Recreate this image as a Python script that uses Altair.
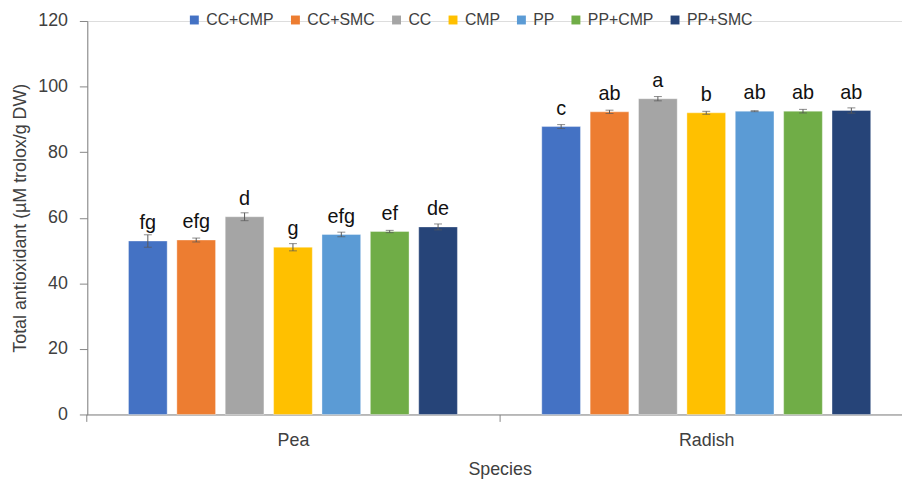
import altair as alt
import pandas as pd

species_list = ["Pea", "Radish"]
treatments = ["CC+CMP", "CC+SMC", "CC", "CMP", "PP", "PP+CMP", "PP+SMC"]
colors = ["#4472C4", "#ED7D31", "#A5A5A5", "#FFC000", "#5B9BD5", "#70AD47", "#264478"]

pea_means = [52.9, 53.2, 60.3, 51.0, 54.9, 55.8, 57.2]
pea_err = [1.9, 0.6, 1.2, 1.1, 0.7, 0.35, 0.9]
pea_letters = ["fg", "efg", "d", "g", "efg", "ef", "de"]

radish_means = [87.8, 92.3, 96.3, 92.0, 92.5, 92.5, 92.7]
radish_err = [0.6, 0.5, 0.65, 0.45, 0.15, 0.55, 0.8]
radish_letters = ["c", "ab", "a", "b", "ab", "ab", "ab"]

rows = []
for sp, means, errs, lets in [
    ("Pea", pea_means, pea_err, pea_letters),
    ("Radish", radish_means, radish_err, radish_letters),
]:
    for t, m, e, l in zip(treatments, means, errs, lets):
        rows.append(dict(Species=sp, Treatment=t, mean=m, lo=m - e, hi=m + e, letter=l))
df = pd.DataFrame(rows)

FONT = "Liberation Sans"
AXC = "#868686"
LBC = "#404040"

x_scale = alt.Scale(domain=species_list, paddingInner=0, paddingOuter=0, range=[-1, 833])
x_enc = alt.X(
    "Species:N",
    title="Species",
    scale=x_scale,
    axis=alt.Axis(
        labelAngle=0, tickBand="extent", tickSize=7, labelPadding=10,
        titlePadding=12,
    ),
)
xoff = alt.XOffset(
    "Treatment:N", sort=treatments,
    scale=alt.Scale(domain=treatments, paddingInner=0.2, paddingOuter=0.872),
)
y_scale = alt.Scale(domain=[0, 120])

base = alt.Chart(df)

bars = base.mark_bar(stroke="white", strokeWidth=0.6, strokeOpacity=0.6).encode(
    x=x_enc,
    xOffset=xoff,
    y=alt.Y(
        "mean:Q", scale=y_scale,
        title="Total antioxidant (µM trolox/g DW)",
        axis=alt.Axis(
            values=[0, 20, 40, 60, 80, 100, 120], grid=False, tickSize=8,
            labelPadding=12, titlePadding=8,
        ),
    ),
    color=alt.Color(
        "Treatment:N", sort=treatments,
        scale=alt.Scale(domain=treatments, range=colors),
        legend=alt.Legend(
            orient="none", legendX=100, legendY=-9, direction="horizontal",
            title=None, symbolType="square", symbolSize=81, symbolStrokeWidth=0,
            labelFontSize=16, labelFont=FONT, labelColor=LBC,
            columnPadding=13, labelOffset=4,
        ),
    ),
)

xo = alt.X("Species:N", scale=x_scale)
rules = base.mark_rule(color="#595959", strokeWidth=1).encode(
    x=xo, xOffset=xoff,
    y=alt.Y("lo:Q", scale=y_scale),
    y2="hi:Q",
)
caps_top = base.mark_tick(color="#595959", thickness=1, size=8).encode(
    x=xo, xOffset=xoff,
    y=alt.Y("hi:Q", scale=y_scale),
)
caps_bot = base.mark_tick(color="#595959", thickness=1, size=8).encode(
    x=xo, xOffset=xoff,
    y=alt.Y("lo:Q", scale=y_scale),
)
labels = base.mark_text(
    dy=-12, baseline="alphabetic", fontSize=20, font=FONT, color="#111111"
).encode(
    x=xo, xOffset=xoff,
    y=alt.Y("mean:Q", scale=y_scale),
    text="letter:N",
)

chart = (
    alt.layer(bars, rules, caps_top, caps_bot, labels)
    .properties(
        width=822, height=397,
        autosize=alt.AutoSizeParams(type="none"),
        padding={"left": 80, "top": 11, "right": 0, "bottom": 63},
    )
    .configure_view(stroke=None)
    .configure(background="white")
    .configure_axis(
        labelFontSize=18, titleFontSize=18, labelFont=FONT, titleFont=FONT,
        labelColor=LBC, titleColor=LBC, titleFontWeight="normal",
        domainColor=AXC, tickColor=AXC, grid=False,
    )
)

chart.save("out.html", embed_options={"renderer": "svg", "actions": False})
